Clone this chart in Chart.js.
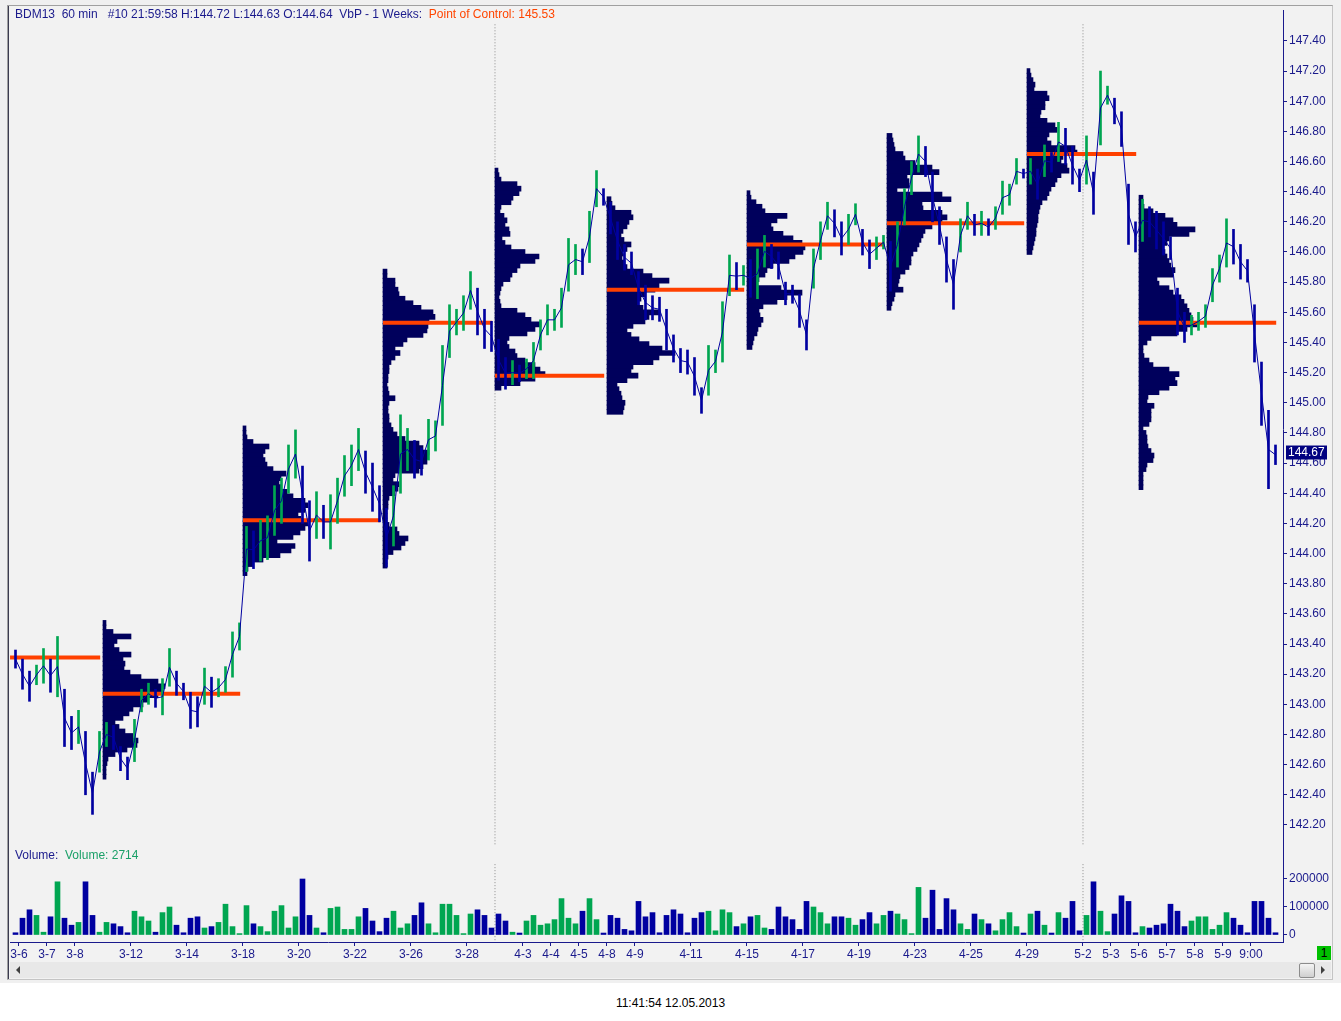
<!DOCTYPE html>
<html>
<head>
<meta charset="utf-8">
<title>BDM13 60 min</title>
<script src="https://cdn.jsdelivr.net/npm/chart.js@4.4.0/dist/chart.umd.min.js"></script>
<style>
  body { margin: 0; background: #ffffff; font-family: "Liberation Sans", Arial, sans-serif; }
  #outer { position: absolute; left: 0; top: 0; width: 1341px; height: 983px; background: #f0f0f0; }
  #panel { position: absolute; left: 7px; top: 5px; width: 1326px; height: 975px; box-sizing: border-box;
           border-top: 1px solid #a0a0a0; border-left: 1px solid #a0a0a0; border-right: 1px solid #c4c4c4;
           border-bottom: 1px solid #c4c4c4; background: #f2f2f2; }
  #leftline { position: absolute; left: 8px; top: 6px; width: 1px; height: 973px; background: #3c3c50; }
  canvas { position: absolute; left: 0; }
  #priceCanvas { top: 0; }
  #volCanvas { top: 838px; }
  .txt { position: absolute; font-size: 12px; white-space: pre; line-height: 14px; }
  #header { left: 15px; top: 7px; color: #1a1a8c; }
  #header span { color: #ff4500; }
  #volLabel { left: 15px; top: 848px; color: #1a1a8c; }
  #volLabel span { color: #1aa068; }
  #scroll { position: absolute; left: 10px; top: 962px; width: 1321px; height: 16px; background: #e8e8e8; }
  #arrowL { position: absolute; left: 6px; top: 4px; width: 0; height: 0; border-top: 4px solid transparent;
            border-bottom: 4px solid transparent; border-right: 4px solid #404040; }
  #arrowR { position: absolute; left: 1311px; top: 4px; width: 0; height: 0; border-top: 4px solid transparent;
            border-bottom: 4px solid transparent; border-left: 4px solid #404040; }
  #thumb { position: absolute; left: 1289px; top: 1px; width: 14px; height: 13px; border: 1px solid #8c8c8c;
           border-radius: 2px; background: linear-gradient(#f4f4f4, #cfcfcf); }
  #green { position: absolute; left: 1317px; top: 946px; width: 14px; height: 14px; background: #00c000;
           color: #000; font-size: 12px; line-height: 14px; text-align: center; }
  #stamp { position: absolute; left: 0; top: 996px; width: 1341px; text-align: center; font-size: 12px; color: #000; }
</style>
</head>
<body>
<div id="outer"></div>
<div id="panel"></div>
<div id="leftline"></div>
<canvas id="priceCanvas" width="1341" height="858"></canvas>
<canvas id="volCanvas" width="1341" height="124"></canvas>
<div class="txt" id="header">BDM13  60 min   #10 21:59:58 H:144.72 L:144.63 O:144.64  VbP - 1 Weeks:  <span>Point of Control: 145.53</span></div>
<div class="txt" id="volLabel">Volume:  <span>Volume: 2714</span></div>
<div id="scroll"><div id="arrowL"></div><div id="thumb"></div><div id="arrowR"></div></div>
<div id="green">1</div>
<div id="stamp">11:41:54 12.05.2013</div>
<script>
// trading days counted from 3-6 (day 0); four 60-min groups per day
const firstSlot = -0.125;
const slotStep = 0.25;

const dateTicks = [0, 1, 2, 4, 6, 8, 10, 12, 14, 16, 18, 19, 20, 21, 22, 24, 26, 28, 30, 32, 34, 36, 38, 39, 40, 41, 42, 43, 44];
const dateLabels = ['3-6', '3-7', '3-8', '3-12', '3-14', '3-18', '3-20', '3-22', '3-26', '3-28', '4-3', '4-4', '4-5', '4-8', '4-9',
  '4-11', '4-15', '4-17', '4-19', '4-23', '4-25', '4-29', '5-2', '5-3', '5-6', '5-7', '5-8', '5-9', '9:00'];
const monthBreaks = [17, 38];

const priceTicks = [142.2, 142.4, 142.6, 142.8, 143.0, 143.2, 143.4, 143.6, 143.8, 144.0, 144.2, 144.4, 144.6, 144.8,
  145.0, 145.2, 145.4, 145.6, 145.8, 146.0, 146.2, 146.4, 146.6, 146.8, 147.0, 147.2, 147.4];
const volTicks = [0, 100, 200];
const lastPrice = 144.67;

const highs = [
  143.36, 143.30, 143.22, 143.26, 143.37, 143.30, 143.45, 143.10, 142.92, 142.96,
  142.82, 142.55, 142.82, 142.88, 142.86, 142.72, 142.65, 142.90, 143.10, 143.14,
  143.10, 143.17, 143.37, 143.22, 143.14, 143.08, 143.05, 143.24, 143.18, 143.17,
  143.25, 143.48, 143.54, 144.18, 144.15, 144.22, 144.25, 144.45, 144.50, 144.72,
  144.82, 144.58, 144.35, 144.41, 144.32, 144.39, 144.50, 144.65, 144.72, 144.83,
  144.68, 144.60, 144.45, 144.30, 144.45, 144.92, 144.83, 144.75, 144.70, 144.89,
  144.88, 145.38, 145.65, 145.62, 145.71, 145.87, 145.76, 145.62, 145.54, 145.42,
  145.30, 145.28, 145.25, 145.29, 145.40, 145.55, 145.65, 145.62, 145.76, 146.09,
  146.05, 146.02, 146.27, 146.54, 146.42, 146.33, 146.20, 146.05, 146.00, 145.87,
  145.78, 145.71, 145.70, 145.62, 145.45, 145.36, 145.35, 145.30, 145.10, 145.38,
  145.35, 145.67, 145.98, 145.93, 145.91, 145.95, 146.02, 146.11, 146.05, 146.00,
  145.80, 145.78, 145.72, 145.55, 146.02, 146.20, 146.33, 146.28, 146.20, 146.25,
  146.32, 146.15, 146.08, 146.10, 146.11, 146.07, 146.20, 146.42, 146.60, 146.77,
  146.70, 146.53, 146.30, 146.10, 145.95, 146.22, 146.33, 146.25, 146.27, 146.22,
  146.30, 146.47, 146.45, 146.62, 146.55, 146.62, 146.55, 146.71, 146.66, 146.86,
  146.82, 146.70, 146.55, 146.77, 146.53, 147.20, 147.10, 147.02, 146.93, 146.45,
  146.20, 146.35, 146.30, 146.27, 146.20, 146.10, 145.76, 145.60, 145.58, 145.60,
  145.65, 145.89, 145.98, 146.22, 146.15, 146.05, 145.95, 145.65, 145.27, 144.95,
  144.72];
const lows = [
  143.24, 143.10, 143.02, 143.13, 143.14, 143.08, 143.05, 142.72, 142.70, 142.74,
  142.40, 142.27, 142.55, 142.72, 142.70, 142.56, 142.50, 142.62, 142.95, 143.00,
  142.98, 142.93, 143.12, 143.06, 143.03, 142.84, 142.85, 143.00, 142.98, 143.05,
  143.08, 143.18, 143.36, 143.88, 143.90, 143.95, 143.96, 144.12, 144.20, 144.40,
  144.50, 144.20, 143.95, 144.10, 144.10, 144.03, 144.20, 144.38, 144.45, 144.55,
  144.40, 144.28, 144.21, 143.91, 144.05, 144.40, 144.55, 144.50, 144.52, 144.62,
  144.68, 144.85, 145.30, 145.45, 145.48, 145.62, 145.45, 145.36, 145.34, 145.15,
  145.09, 145.12, 145.14, 145.16, 145.16, 145.35, 145.45, 145.48, 145.50, 145.74,
  145.85, 145.85, 145.93, 146.30, 146.31, 146.12, 145.95, 145.88, 145.85, 145.65,
  145.55, 145.55, 145.54, 145.35, 145.27, 145.20, 145.19, 145.05, 144.93, 145.05,
  145.20, 145.27, 145.71, 145.75, 145.78, 145.70, 145.69, 145.90, 145.89, 145.82,
  145.65, 145.66, 145.50, 145.35, 145.76, 145.95, 146.15, 146.10, 145.98, 146.05,
  146.18, 145.98, 145.89, 145.95, 146.02, 145.74, 145.90, 146.18, 146.38, 146.53,
  146.50, 146.20, 146.05, 145.80, 145.62, 146.00, 146.15, 146.11, 146.11, 146.11,
  146.15, 146.25, 146.31, 146.45, 146.49, 146.45, 146.35, 146.50, 146.53, 146.60,
  146.58, 146.45, 146.40, 146.45, 146.25, 146.71, 146.98, 146.85, 146.70, 146.05,
  146.00, 146.07, 146.10, 146.02, 145.98, 145.95, 145.45, 145.40, 145.45, 145.48,
  145.50, 145.67, 145.80, 145.90, 145.92, 145.82, 145.80, 145.27, 144.85, 144.43,
  144.59];
// volume in thousands of contracts
const volK = [
  8, 60, 90, 70, 10, 65, 190, 60, 35, 45,
  190, 70, 10, 45, 40, 30, 8, 85, 65, 50,
  10, 80, 100, 35, 8, 60, 65, 25, 30, 45,
  110, 30, 5, 105, 40, 30, 12, 85, 105, 25,
  65, 200, 70, 25, 8, 95, 100, 20, 20, 65,
  95, 50, 12, 60, 85, 25, 40, 70, 115, 40,
  8, 110, 110, 70, 5, 75, 90, 70, 25, 75,
  50, 10, 7, 50, 70, 35, 40, 55, 130, 60,
  40, 85, 130, 55, 7, 70, 60, 20, 15, 120,
  65, 80, 8, 70, 90, 75, 8, 60, 80, 85,
  15, 90, 80, 30, 40, 65, 70, 25, 20, 100,
  65, 55, 20, 120, 100, 80, 40, 65, 65, 60,
  35, 55, 80, 40, 70, 85, 75, 55, 5, 170,
  60, 160, 20, 130, 90, 40, 20, 75, 55, 40,
  15, 55, 80, 30, 7, 75, 85, 35, 7, 80,
  60, 120, 15, 70, 190, 85, 12, 75, 140, 120,
  8, 30, 25, 35, 40, 110, 85, 30, 50, 65,
  65, 20, 35, 80, 60, 35, 8, 120, 120, 60,
  8];

// weekly volume-at-price, one value per 0.03 from the top price down
const profileStep = 0.03;
const profileStarts = [3, 8, 13, 17, 21, 26, 31, 36, 40];
const profileTops = [143.54, 144.83, 145.87, 146.54, 146.35, 146.39, 146.77, 147.20, 146.36];
const vpW2 = [3, 3, 10, 28, 14, 11, 16, 28, 20, 22, 21, 27, 38, 55, 62, 60, 55, 45, 40, 30, 26, 20, 12, 16, 22, 30, 35, 34, 24, 12, 5, 4, 3, 3, 3];
const vpW3 = [3, 3, 4, 10, 26, 22, 20, 22, 24, 30, 43, 38, 36, 38, 44, 50, 62, 65, 62, 55, 58, 65, 62, 57, 50, 34, 52, 48, 37, 20, 10, 5, 4];
const vpW4 = [4, 4, 12, 12, 15, 16, 22, 30, 38, 50, 52, 46, 45, 44, 40, 24, 20, 12, 17, 12, 8, 6, 6, 5, 5, 4, 5, 6, 12, 6,
  5, 5, 6, 6, 8, 10, 14, 22, 36, 40, 46, 45, 44, 40, 36, 12, 10, 16, 15, 12, 6, 5, 5, 4, 4, 4, 6, 14, 16, 25, 22, 18, 10, 5, 4, 4];
const vpW5 = [3, 4, 6, 22, 26, 24, 18, 16, 6, 5, 9, 12, 10, 14, 15, 7, 10, 16, 30, 44, 40, 25, 22, 17, 15, 8, 6, 5, 4, 5,
  6, 22, 30, 36, 46, 40, 32, 14, 12, 14, 20, 22, 30, 40, 45, 50, 40, 25, 6];
const vpW6 = [4, 5, 8, 24, 26, 22, 20, 16, 14, 17, 24, 20, 16, 15, 18, 20, 36, 45, 62, 52, 48, 38, 34, 32, 36, 53, 42, 38, 26, 20,
  24, 32, 42, 55, 68, 52, 46, 26, 24, 31, 20, 10, 12, 14, 15, 18, 17, 16];
const vpW7 = [3, 4, 9, 15, 18, 40, 30, 24, 26, 36, 46, 55, 58, 56, 48, 42, 26, 20, 18, 12, 10, 34, 55, 40, 30, 16, 12, 13, 16, 14, 11, 10, 7, 6, 5];
const vpW8 = [5, 6, 7, 8, 16, 18, 28, 45, 52, 20, 22, 22, 10, 55, 64, 35, 36, 55, 60, 55, 45, 38, 36, 34, 32, 30, 26, 24, 24, 22,
  18, 13, 12, 11, 16, 8, 7, 5, 4];
const vpW9 = [3, 4, 6, 8, 7, 20, 22, 18, 18, 14, 13, 20, 28, 30, 22, 20, 24, 48, 50, 36, 34, 40, 42, 34, 30, 28, 24, 22, 20, 15,
  13, 12, 11, 11, 10, 9, 9, 8, 7, 6, 5];
const vpW10 = [4, 4, 5, 14, 26, 34, 38, 56, 50, 30, 28, 24, 26, 28, 30, 32, 36, 34, 18, 20, 30, 34, 42, 45, 48, 50, 52, 54, 58, 48,
  38, 12, 8, 4, 4, 5, 10, 14, 30, 40, 36, 38, 30, 20, 9, 8, 15, 12, 12, 12, 10, 4, 7, 8, 8, 9, 12, 15, 14, 8, 7, 4, 4, 4, 4];
const profiles = [vpW2, vpW3, vpW4, vpW5, vpW6, vpW7, vpW8, vpW9, vpW10];
const profileUnit = 1 / 28; // days of width per volume unit

// point of control per week
const pocValues = [143.31, 143.07, 144.22, 145.53, 145.18, 145.75, 146.05, 146.19, 146.65, 145.53];
const pocFrom = [-0.32, 3, 8, 13, 17, 21, 26, 31, 36, 40];
const pocTo = [2.9, 7.9, 12.9, 16.9, 20.9, 25.9, 30.9, 35.9, 39.9, 44.9];

const xMin = -0.3214, xMax = 45.143;
const navy = '#1a1a8c';
const barBlue = '#0000a0';
const barGreen = '#00a651';
const font = { family: '"Liberation Sans", Arial, sans-serif', size: 12 };

const slotX = i => firstSlot + i * slotStep;
const mids = highs.map((h, i) => (h + lows[i]) / 2);
const isUp = mids.map((m, i) => i > 0 && m >= mids[i - 1]);
const barColors = isUp.map(u => u ? barGreen : barBlue);

const lastPriceTag = {
  id: 'lastPriceTag',
  afterDraw(chart) {
    const { ctx, chartArea, scales } = chart;
    const y = scales.y.getPixelForValue(lastPrice);
    ctx.save();
    ctx.fillStyle = '#000080';
    ctx.fillRect(chartArea.right + 3, y - 7, 41, 14);
    ctx.fillStyle = '#ffffff';
    ctx.font = '12px "Liberation Sans", Arial';
    ctx.textBaseline = 'middle';
    ctx.fillText(lastPrice.toFixed(2), chartArea.right + 5, y + 0.5);
    ctx.restore();
  }
};

const profileSets = profiles.map((rows, w) => ({
  type: 'bar',
  indexAxis: 'y',
  grouped: false,
  order: 3,
  barThickness: 5,
  borderWidth: 0,
  backgroundColor: '#00005c',
  data: rows.map((v, k) => ({
    y: profileTops[w] - k * profileStep,
    x: [profileStarts[w], profileStarts[w] + v * profileUnit]
  }))
}));

const pocSets = pocValues.map((v, w) => ({
  type: 'line',
  order: 2,
  data: [{ x: pocFrom[w], y: v }, { x: pocTo[w], y: v }],
  borderColor: '#ff4000',
  borderWidth: 4,
  borderCapStyle: 'butt',
  pointRadius: 0
}));

const breakSets = (top, bottom) => monthBreaks.map(d => ({
  type: 'line',
  order: 4,
  data: [{ x: d, y: top }, { x: d, y: bottom }],
  borderColor: '#8a8a8a',
  borderWidth: 1,
  borderDash: [1, 2],
  pointRadius: 0
}));

new Chart(document.getElementById('priceCanvas'), {
  type: 'bar',
  data: {
    datasets: [
      {
        type: 'line',
        order: 0,
        data: mids.map((m, i) => ({ x: slotX(i), y: m })),
        borderColor: barBlue,
        borderWidth: 1,
        pointRadius: 0
      },
      {
        type: 'bar',
        order: 1,
        grouped: false,
        barThickness: 2,
        borderWidth: 0,
        data: highs.map((h, i) => ({ x: slotX(i), y: [lows[i], h] })),
        backgroundColor: barColors
      },
      ...pocSets,
      ...profileSets,
      ...breakSets(147.51, 142.06)
    ]
  },
  options: {
    responsive: false,
    animation: false,
    events: [],
    layout: { padding: { left: 10, top: 10, right: 0, bottom: 10 } },
    plugins: { legend: { display: false }, tooltip: { enabled: false } },
    scales: {
      x: { type: 'linear', min: xMin, max: xMax, offset: false, display: false },
      y: {
        type: 'linear',
        position: 'right',
        offset: false,
        min: 142.047,
        max: 147.605,
        afterFit: s => { s.width = 58; },
        afterBuildTicks: s => { s.ticks = priceTicks.map(v => ({ value: v })); },
        border: { color: navy },
        grid: { drawOnChartArea: false, offset: false, color: navy, tickLength: 4 },
        ticks: { color: navy, font, padding: 2, callback: v => v.toFixed(2) }
      }
    }
  },
  plugins: [lastPriceTag]
});

new Chart(document.getElementById('volCanvas'), {
  type: 'bar',
  data: {
    datasets: [
      {
        type: 'bar',
        order: 1,
        grouped: false,
        barThickness: 5,
        borderWidth: 0,
        data: volK.map((v, i) => ({ x: slotX(i), y: v })),
        backgroundColor: barColors
      },
      ...breakSets(253, -25)
    ]
  },
  options: {
    responsive: false,
    animation: false,
    events: [],
    layout: { padding: { left: 10, top: 10, right: 0, bottom: 0 } },
    plugins: { legend: { display: false }, tooltip: { enabled: false } },
    scales: {
      x: {
        type: 'linear',
        min: xMin,
        max: xMax,
        offset: false,
        afterFit: s => { s.height = 20; },
        afterBuildTicks: s => { s.ticks = dateTicks.map(v => ({ value: v })); },
        border: { color: navy },
        grid: { drawOnChartArea: false, offset: false, color: navy, tickLength: 4 },
        ticks: { autoSkip: false, maxRotation: 0, padding: 1, color: navy, font, callback: (v, i) => dateLabels[i] }
      },
      y: {
        type: 'linear',
        position: 'right',
        offset: false,
        min: -25.0,
        max: 310.71,
        afterFit: s => { s.width = 58; },
        afterBuildTicks: s => { s.ticks = volTicks.map(v => ({ value: v })); },
        border: { color: navy },
        grid: { drawOnChartArea: false, offset: false, color: navy, tickLength: 4 },
        ticks: { color: navy, font, padding: 2, callback: v => String(v * 1000) }
      }
    }
  }
});
</script>
</body>
</html>
